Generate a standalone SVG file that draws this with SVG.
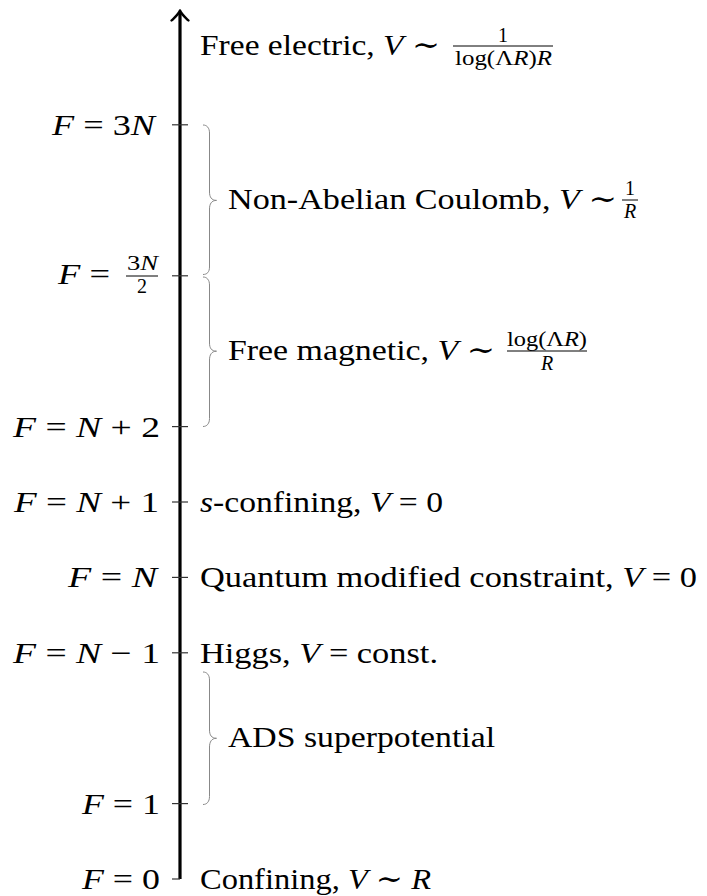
<svg xmlns="http://www.w3.org/2000/svg" width="707" height="896" viewBox="0 0 707 896">
<style>
.t{font-family:"Liberation Serif","DejaVu Serif",serif;font-size:30px;fill:#000}
.s{font-family:"Liberation Serif","DejaVu Serif",serif;font-size:20px;fill:#000}
.i{font-style:italic}
.tick{stroke:#333;stroke-width:1.2;fill:none}
.brace{stroke:#888;stroke-width:1;fill:none}
.bar{stroke:#000;stroke-width:1;fill:none}
</style>
<rect width="707" height="896" fill="#fff"/>
<g id="connectors">
  <line x1="180" y1="879" x2="180" y2="12.5" stroke="#000" stroke-width="3.2"/>
  <path d="M171.5,20.5 C174.5,17.5 178.5,14.5 180,10.5 M188.5,20.5 C185.5,17.5 181.5,14.5 180,10.5" stroke="#000" stroke-width="2.4" fill="none" stroke-linecap="round"/>
  <path class="brace" d="M203,125 C207,125 209.5,128 209.5,133 L209.5,192 C209.5,197 211.5,200.4 216.5,200.4 C211.5,200.4 209.5,204 209.5,209 L209.5,267 C209.5,272 207,274.5 203,274.5"/>
  <path class="brace" d="M203,277 C207,277 209.5,280 209.5,285 L209.5,343 C209.5,348 211.5,351.2 216.5,351.2 C211.5,351.2 209.5,355 209.5,360 L209.5,418.5 C209.5,423.5 207,426.5 203,426.5"/>
  <path class="brace" d="M203,672 C207,672 209.5,675 209.5,680 L209.5,730 C209.5,735 211.5,738.3 216.5,738.3 C211.5,738.3 209.5,742 209.5,747 L209.5,796.5 C209.5,801.5 207,804.5 203,804.5"/>
</g>
<g id="top">
  <text class="t" x="200" y="55" textLength="240" lengthAdjust="spacingAndGlyphs">Free electric, <tspan class="i">V</tspan> ∼</text>
  <text class="s" x="503" y="42" text-anchor="middle">1</text>
  <line class="bar" x1="453" y1="46" x2="553" y2="46"/>
  <text class="s" x="455" y="65" textLength="97" lengthAdjust="spacingAndGlyphs">log(Λ<tspan class="i">R</tspan>)<tspan class="i">R</tspan></text>
</g>
<g id="f3n">
  <line class="tick" x1="172" y1="124.8" x2="188" y2="124.8"/>
  <text class="t" x="52" y="134.8" textLength="103" lengthAdjust="spacingAndGlyphs"><tspan class="i">F</tspan> = 3<tspan class="i">N</tspan></text>
</g>
<g id="nonabelian">
  <text class="t" x="228" y="209" textLength="389" lengthAdjust="spacingAndGlyphs">Non-Abelian Coulomb, <tspan class="i">V</tspan> ∼</text>
  <text class="s" x="630" y="195" text-anchor="middle">1</text>
  <line class="bar" x1="622" y1="200" x2="638" y2="200"/>
  <text class="s i" x="630" y="218" text-anchor="middle">R</text>
</g>
<g id="f3n2">
  <line class="tick" x1="172" y1="275.8" x2="188" y2="275.8"/>
  <text class="t" x="58" y="284" textLength="52" lengthAdjust="spacingAndGlyphs"><tspan class="i">F</tspan> =</text>
  <text class="s" x="127" y="270" textLength="31" lengthAdjust="spacingAndGlyphs">3<tspan class="i">N</tspan></text>
  <line class="bar" x1="126" y1="276" x2="158" y2="276"/>
  <text class="s" x="142" y="293" text-anchor="middle">2</text>
</g>
<g id="freemagnetic">
  <text class="t" x="228" y="360" textLength="267" lengthAdjust="spacingAndGlyphs">Free magnetic, <tspan class="i">V</tspan> ∼</text>
  <text class="s" x="507" y="346" textLength="80" lengthAdjust="spacingAndGlyphs">log(Λ<tspan class="i">R</tspan>)</text>
  <line class="bar" x1="507" y1="351" x2="587" y2="351"/>
  <text class="s i" x="547" y="370" text-anchor="middle">R</text>
</g>
<g id="fn2">
  <line class="tick" x1="172" y1="426.6" x2="188" y2="426.6"/>
  <text class="t" x="13" y="436.6" textLength="147" lengthAdjust="spacingAndGlyphs"><tspan class="i">F</tspan> = <tspan class="i">N</tspan> + 2</text>
</g>
<g id="fn1">
  <line class="tick" x1="172" y1="502" x2="188" y2="502"/>
  <text class="t" x="14" y="512" textLength="145" lengthAdjust="spacingAndGlyphs"><tspan class="i">F</tspan> = <tspan class="i">N</tspan> + 1</text>
  <text class="t" x="200" y="512" textLength="243" lengthAdjust="spacingAndGlyphs"><tspan class="i">s</tspan>-confining, <tspan class="i">V</tspan> = 0</text>
</g>
<g id="fn">
  <line class="tick" x1="172" y1="577.4" x2="188" y2="577.4"/>
  <text class="t" x="68" y="587.4" textLength="89" lengthAdjust="spacingAndGlyphs"><tspan class="i">F</tspan> = <tspan class="i">N</tspan></text>
  <text class="t" x="200" y="587.4" textLength="497" lengthAdjust="spacingAndGlyphs">Quantum modified constraint, <tspan class="i">V</tspan> = 0</text>
</g>
<g id="fnm1">
  <line class="tick" x1="172" y1="652.8" x2="188" y2="652.8"/>
  <text class="t" x="13" y="662.8" textLength="147" lengthAdjust="spacingAndGlyphs"><tspan class="i">F</tspan> = <tspan class="i">N</tspan> − 1</text>
  <text class="t" x="200" y="662.8" textLength="238" lengthAdjust="spacingAndGlyphs">Higgs, <tspan class="i">V</tspan> = const.</text>
</g>
<g id="ads">
  <text class="t" x="228" y="747" textLength="267" lengthAdjust="spacingAndGlyphs">ADS superpotential</text>
</g>
<g id="f1">
  <line class="tick" x1="172" y1="803.6" x2="188" y2="803.6"/>
  <text class="t" x="82" y="813.6" textLength="78" lengthAdjust="spacingAndGlyphs"><tspan class="i">F</tspan> = 1</text>
</g>
<g id="f0">
  <line class="tick" x1="172" y1="879" x2="180" y2="879"/>
  <text class="t" x="82" y="889" textLength="78" lengthAdjust="spacingAndGlyphs"><tspan class="i">F</tspan> = 0</text>
  <text class="t" x="200" y="889" textLength="231" lengthAdjust="spacingAndGlyphs">Confining, <tspan class="i">V</tspan> ∼ <tspan class="i">R</tspan></text>
</g>
</svg>
